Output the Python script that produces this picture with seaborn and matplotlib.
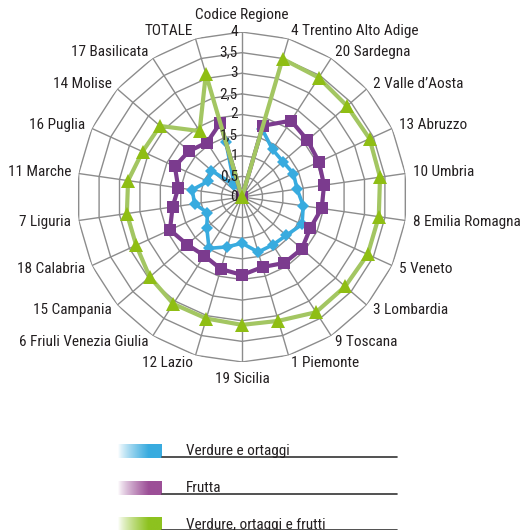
import numpy as np
import matplotlib
matplotlib.use("Agg")
import matplotlib.pyplot as plt
import seaborn as sns
from matplotlib.colors import LinearSegmentedColormap

# --- data -------------------------------------------------------------
categories = ["Codice Regione", "4 Trentino Alto Adige", "20 Sardegna",
              "2 Valle d\u2019Aosta", "13 Abruzzo", "10 Umbria",
              "8 Emilia Romagna", "5 Veneto", "3 Lombardia", "9 Toscana",
              "1 Piemonte", "19 Sicilia", "12 Lazio",
              "6 Friuli Venezia Giulia", "15 Campania", "18 Calabria",
              "7 Liguria", "11 Marche", "16 Puglia", "14 Molise",
              "17 Basilicata", "TOTALE"]

verdure = [0, 1.72, 1.37, 1.31, 1.37, 1.35, 1.50, 1.60, 1.42, 1.38, 1.39,
           1.12, 1.26, 1.48, 1.13, 0.92, 1.16, 1.22, 0.91, 0.98, 0.34, 1.38]
frutta = [0, 1.80, 2.20, 2.10, 2.05, 2.01, 1.95, 1.82, 1.92, 1.90, 1.77,
          1.89, 1.82, 1.69, 1.76, 1.92, 1.70, 1.56, 1.79, 1.70, 1.57, 1.87]
verdure_frutti = [0, 3.49, 3.44, 3.37, 3.40, 3.38, 3.35, 3.35, 3.31, 3.32,
                  3.13, 3.10, 3.07, 3.08, 2.96, 2.82, 2.82, 2.79, 2.65, 2.63,
                  1.90, 3.11]

series_names = ["Verdure e ortaggi", "Frutta", "Verdure, ortaggi e frutti"]
r_ticks = [0, 0.5, 1, 1.5, 2, 2.5, 3, 3.5, 4]
r_tick_labels = ["0", "0,5", "1", "1,5", "2", "2,5", "3", "3,5", "4"]

# --- style ------------------------------------------------------------
sns.set_theme(style="white")
plt.rcParams["font.family"] = ["Roboto Condensed", "Liberation Sans Narrow", "Liberation Sans"]
FS = 11
TXT = "#231f20"
GRID = "#8c8c8c"
BLUE = "#38abdf"
PURPLE = "#7b3b8e"
GREEN_LINE = "#a3c662"
GREEN_MARK = "#8fbe14"

W, H = 522, 530
fig = plt.figure(figsize=(W / 100, H / 100), dpi=100)

cx, cy, rad = 242, 197, 165
ax = fig.add_axes([(cx - rad) / W, (H - cy - rad) / H, 2 * rad / W, 2 * rad / H],
                  projection="polar")
ax.set_theta_zero_location("N")
ax.set_theta_direction(-1)
ax.set_ylim(0, 4)
ax.grid(False)
ax.spines["polar"].set_visible(False)
ax.set_xticks([])
ax.set_yticks([])
ax.set_facecolor("none")

n = len(categories)
theta = np.arange(n) * 2 * np.pi / n
theta_c = np.append(theta, 2 * np.pi)

# polygon grid and spokes
for lvl in r_ticks[1:]:
    ax.plot(theta_c, [lvl] * (n + 1), color=GRID, lw=1.0, zorder=1)
for t in theta:
    ax.plot([t, t], [0, 4], color=GRID, lw=1.0, zorder=1)

def closed(vals):
    return np.append(vals, vals[0])

sns.lineplot(x=theta_c, y=closed(verdure), ax=ax, sort=False, color=BLUE,
             lw=2.6, marker="D", markersize=6.5, markeredgewidth=0,
             markerfacecolor=BLUE, zorder=3)
sns.lineplot(x=theta_c, y=closed(frutta), ax=ax, sort=False, color=PURPLE,
             lw=3.0, marker="s", markersize=9, markeredgewidth=0,
             markerfacecolor=PURPLE, zorder=4)
sns.lineplot(x=theta_c, y=closed(verdure_frutti), ax=ax, sort=False,
             color=GREEN_LINE, lw=3.0, marker="^", markersize=10,
             markeredgewidth=0, markerfacecolor=GREEN_MARK, zorder=5)
ax.set_xlabel("")
ax.set_ylabel("")
ax.set_ylim(0, 4)

# radial value labels along the vertical axis
for v, lab in zip(r_ticks, r_tick_labels):
    ax.annotate(lab, xy=(0, v), xytext=(-3, 0), textcoords="offset points",
                ha="right", va="center", fontsize=FS, color=TXT, zorder=6)

# category labels around the chart
for t, lab in zip(theta, categories):
    s, c = np.sin(t), np.cos(t)
    if abs(s) < 0.05:
        ha = "center"
        rr = 4.42
    else:
        ha = "left" if s > 0 else "right"
        rr = 4.19
    ax.text(t, rr, lab, ha=ha, va="center", fontsize=FS, color=TXT,
            clip_on=False)

# --- legend -------------------------------------------------------------
lax = fig.add_axes([0, 0, 1, 1])
lax.set_xlim(0, W)
lax.set_ylim(H, 0)
lax.axis("off")
lax.patch.set_alpha(0)

legend_colors = [BLUE, "#9c4f97", "#8dc21f"]
rows_y = [444, 481, 517]
ramp = np.clip(np.linspace(0, 1, 200) / 0.7, 0, 1) ** 0.8
for name, col, y0 in zip(series_names, legend_colors, rows_y):
    cmap = LinearSegmentedColormap.from_list("g", ["#ffffff", col])
    lax.imshow(ramp[np.newaxis, :], cmap=cmap, aspect="auto",
               extent=(118, 162, y0 + 14, y0), vmin=0, vmax=1,
               interpolation="bilinear")
    lax.plot([162, 397], [y0 + 13, y0 + 13], color="#333333", lw=1.2)
    lax.text(186, y0 + 11.5, name, ha="left", va="baseline", fontsize=FS,
             color=TXT)
lax.set_xlim(0, W)
lax.set_ylim(H, 0)

fig.savefig("out.png", dpi=100)
